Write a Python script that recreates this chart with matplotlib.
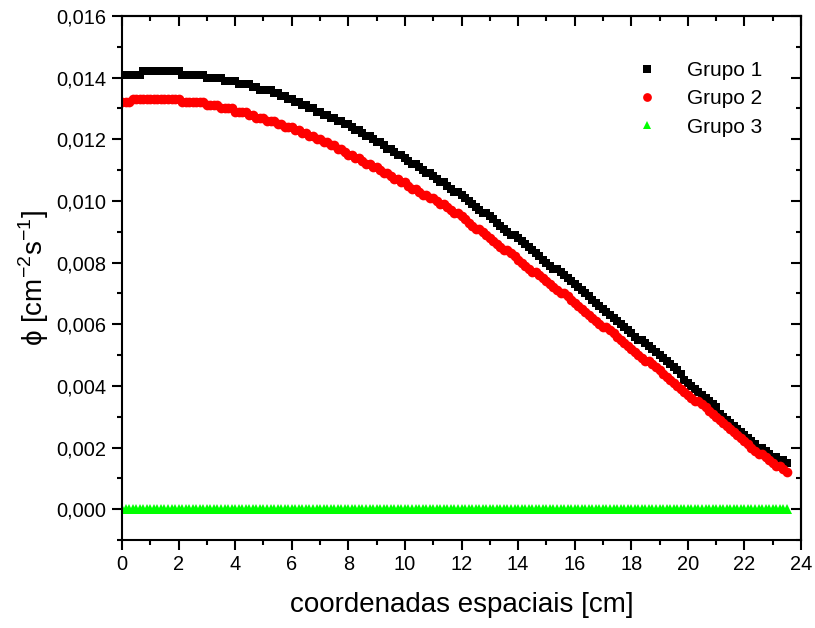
import numpy as np
import matplotlib
matplotlib.use("Agg")
import matplotlib.pyplot as plt
from matplotlib.ticker import MultipleLocator, FuncFormatter

# ---------------- data ----------------
x_cm = np.arange(0.0, 23.51, 0.125)

grupo1 = [
    0.0141, 0.0141, 0.0141, 0.0141, 0.0141, 0.0141, 0.0142, 0.0142,
    0.0142, 0.0142, 0.0142, 0.0142, 0.0142, 0.0142, 0.0142, 0.0142,
    0.0142, 0.0141, 0.0141, 0.0141, 0.0141, 0.0141, 0.0141, 0.0141,
    0.0140, 0.0140, 0.0140, 0.0140, 0.0140, 0.0139, 0.0139, 0.0139,
    0.0139, 0.0138, 0.0138, 0.0138, 0.0138, 0.0137, 0.0137, 0.0136,
    0.0136, 0.0136, 0.0136, 0.0135, 0.0135, 0.0134, 0.0134, 0.0133,
    0.0133, 0.0132, 0.0132, 0.0131, 0.0131, 0.0130, 0.0130, 0.0129,
    0.0129, 0.0128, 0.0128, 0.0127, 0.0127, 0.0126, 0.0126, 0.0125,
    0.0125, 0.0124, 0.0123, 0.0123, 0.0122, 0.0121, 0.0121, 0.0120,
    0.0119, 0.0119, 0.0118, 0.0117, 0.0117, 0.0116, 0.0115, 0.0115,
    0.0114, 0.0113, 0.0112, 0.0112, 0.0111, 0.0110, 0.0109, 0.0109,
    0.0108, 0.0107, 0.0106, 0.0106, 0.0105, 0.0104, 0.0103, 0.0103,
    0.0102, 0.0101, 0.0100, 0.0099, 0.0098, 0.0097, 0.0096, 0.0096,
    0.0095, 0.0094, 0.0093, 0.0092, 0.0091, 0.0090, 0.0089, 0.0089,
    0.0088, 0.0087, 0.0086, 0.0085, 0.0084, 0.0083, 0.0082, 0.0081,
    0.0080, 0.0079, 0.0078, 0.0078, 0.0077, 0.0076, 0.0075, 0.0074,
    0.0073, 0.0072, 0.0071, 0.0070, 0.0069, 0.0068, 0.0067, 0.0066,
    0.0065, 0.0064, 0.0063, 0.0062, 0.0061, 0.0060, 0.0059, 0.0058,
    0.0057, 0.0056, 0.0055, 0.0055, 0.0054, 0.0053, 0.0052, 0.0051,
    0.0050, 0.0049, 0.0048, 0.0047, 0.0046, 0.0045, 0.0044, 0.0042,
    0.0041, 0.0040, 0.0039, 0.0038, 0.0037, 0.0036, 0.0035, 0.0034,
    0.0033, 0.0031, 0.0030, 0.0029, 0.0028, 0.0027, 0.0026, 0.0025,
    0.0024, 0.0023, 0.0022, 0.0021, 0.0020, 0.0020, 0.0019, 0.0018,
    0.0017, 0.0017, 0.0016, 0.0016, 0.0015,
]

grupo2 = [
    0.0132, 0.0132, 0.0132, 0.0133, 0.0133, 0.0133, 0.0133, 0.0133,
    0.0133, 0.0133, 0.0133, 0.0133, 0.0133, 0.0133, 0.0133, 0.0133,
    0.0133, 0.0132, 0.0132, 0.0132, 0.0132, 0.0132, 0.0132, 0.0132,
    0.0131, 0.0131, 0.0131, 0.0131, 0.0130, 0.0130, 0.0130, 0.0130,
    0.0129, 0.0129, 0.0129, 0.0129, 0.0128, 0.0128, 0.0127, 0.0127,
    0.0127, 0.0126, 0.0126, 0.0126, 0.0125, 0.0125, 0.0124, 0.0124,
    0.0124, 0.0123, 0.0123, 0.0122, 0.0122, 0.0121, 0.0121, 0.0120,
    0.0120, 0.0119, 0.0119, 0.0118, 0.0118, 0.0117, 0.0117, 0.0116,
    0.0115, 0.0115, 0.0114, 0.0114, 0.0113, 0.0112, 0.0112, 0.0111,
    0.0111, 0.0110, 0.0109, 0.0109, 0.0108, 0.0107, 0.0107, 0.0106,
    0.0106, 0.0105, 0.0104, 0.0104, 0.0103, 0.0102, 0.0102, 0.0101,
    0.0101, 0.0100, 0.0099, 0.0099, 0.0098, 0.0097, 0.0096, 0.0096,
    0.0095, 0.0094, 0.0093, 0.0092, 0.0091, 0.0091, 0.0090, 0.0089,
    0.0088, 0.0087, 0.0086, 0.0085, 0.0084, 0.0084, 0.0083, 0.0082,
    0.0081, 0.0080, 0.0079, 0.0078, 0.0077, 0.0077, 0.0076, 0.0075,
    0.0074, 0.0073, 0.0072, 0.0071, 0.0070, 0.0070, 0.0069, 0.0068,
    0.0067, 0.0066, 0.0065, 0.0064, 0.0063, 0.0062, 0.0061, 0.0060,
    0.0059, 0.0059, 0.0058, 0.0057, 0.0056, 0.0055, 0.0054, 0.0053,
    0.0052, 0.0051, 0.0050, 0.0049, 0.0048, 0.0048, 0.0047, 0.0046,
    0.0045, 0.0044, 0.0043, 0.0042, 0.0041, 0.0040, 0.0039, 0.0038,
    0.0037, 0.0036, 0.0035, 0.0035, 0.0034, 0.0033, 0.0032, 0.0031,
    0.0030, 0.0029, 0.0028, 0.0027, 0.0026, 0.0025, 0.0024, 0.0023,
    0.0022, 0.0021, 0.0020, 0.0019, 0.0018, 0.0018, 0.0017, 0.0016,
    0.0015, 0.0014, 0.0014, 0.0013, 0.0012,
]

grupo3 = [0.0] * len(x_cm)

labels = ["Grupo 1", "Grupo 2", "Grupo 3"]
xlabel = "coordenadas espaciais [cm]"
ylabel = "\u03d5 [cm$^{\\mathregular{-2}}$s$^{\\mathregular{-1}}$]"

# ---------------- style ----------------
plt.rcParams["font.family"] = ["Liberation Sans", "DejaVu Sans"]
plt.rcParams["mathtext.fontset"] = "custom"
plt.rcParams["mathtext.rm"] = "Liberation Sans"

fig = plt.figure(figsize=(8.15, 6.28), dpi=100)
ax = fig.add_axes([122 / 815, 1 - 540 / 628, (801 - 122) / 815, (540 - 16) / 628])

ax.plot(x_cm, grupo1, linestyle="none", marker="s", markersize=6.0,
        color="black", markeredgewidth=0, label=labels[0])
ax.plot(x_cm, grupo2, linestyle="none", marker="o", markersize=7.0,
        color="#ff0000", markeredgewidth=0, label=labels[1])
ax.plot(x_cm, grupo3, linestyle="none", marker="^", markersize=6.5,
        color="#00ff00", markeredgewidth=0, label=labels[2])

ax.set_xlim(0, 24)
ax.set_ylim(-0.001, 0.016)

ax.xaxis.set_major_locator(MultipleLocator(2))
ax.xaxis.set_minor_locator(MultipleLocator(1))
ax.yaxis.set_major_locator(MultipleLocator(0.002))
ax.yaxis.set_minor_locator(MultipleLocator(0.001))
ax.yaxis.set_major_formatter(FuncFormatter(
    lambda v, p: ("0,000" if abs(v) < 1e-12 else f"{v:.3f}".replace(".", ","))))
ax.xaxis.set_major_formatter(FuncFormatter(lambda v, p: f"{v:g}"))

for s in ax.spines.values():
    s.set_linewidth(1.5)

ax.tick_params(which="major", direction="out", length=7, width=1.5,
               labelsize=14.4, pad=4)
ax.tick_params(which="minor", direction="out", length=3.8, width=1.5)
ax.tick_params(top=False, right=False)

# inward ticks on top and right (Origin style)
secx = ax.secondary_xaxis("top")
secx.xaxis.set_major_locator(MultipleLocator(2))
secx.xaxis.set_minor_locator(MultipleLocator(1))
secx.tick_params(which="major", direction="in", length=7, width=1.5, labeltop=False)
secx.tick_params(which="minor", direction="in", length=3.8, width=1.5)
secx.spines["top"].set_linewidth(1.5)

secy = ax.secondary_yaxis("right")
secy.yaxis.set_major_locator(MultipleLocator(0.002))
secy.yaxis.set_minor_locator(MultipleLocator(0.001))
secy.tick_params(which="major", direction="in", length=7, width=1.5, labelright=False)
secy.tick_params(which="minor", direction="in", length=3.8, width=1.5)
secy.spines["right"].set_linewidth(1.5)

ax.set_xlabel(xlabel, fontsize=20, labelpad=13)
ax.set_ylabel(ylabel, fontsize=20, labelpad=4)

leg = ax.legend(loc="upper right", bbox_to_anchor=(0.97, 0.95), frameon=False,
                fontsize=15, handlelength=1.0, handletextpad=1.4,
                labelspacing=0.45, markerscale=0.9)

fig.savefig("out.png", dpi=100)
